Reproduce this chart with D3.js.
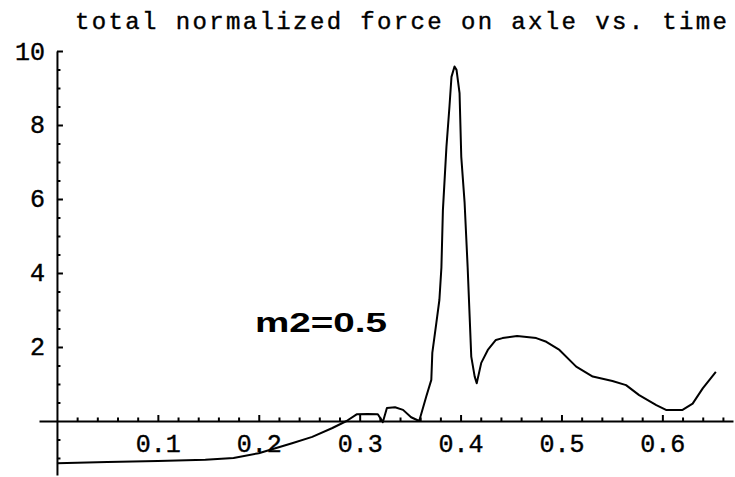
<!DOCTYPE html>
<html>
<head>
<meta charset="utf-8">
<script src="https://cdn.jsdelivr.net/npm/d3@7"></script>
<style>
  body { margin: 0; background: #fff; }
  text { fill: #000; }
</style>
</head>
<body>
<div class="chart"></div>
<script>
// Data
const timeValues = [0, 0.02, 0.05, 0.1, 0.147, 0.175, 0.2, 0.233, 0.253, 0.273, 0.287,
  0.297, 0.308, 0.318, 0.323, 0.327, 0.335, 0.343, 0.351, 0.359, 0.366, 0.371, 0.372,
  0.376, 0.379, 0.381, 0.3825, 0.386, 0.389, 0.391, 0.394, 0.396, 0.399, 0.4007, 0.404,
  0.407, 0.409, 0.4106, 0.414, 0.416, 0.4205, 0.427, 0.435, 0.4416, 0.456, 0.475, 0.485,
  0.498, 0.5146, 0.531, 0.5505, 0.564, 0.577, 0.594, 0.6036, 0.62, 0.63, 0.64, 0.653];
const forceValues = [-1.14, -1.13, -1.11, -1.08, -1.05, -1.0, -0.87, -0.6, -0.43, -0.19, 0,
  0.18, 0.19, 0.18, -0.03, 0.35, 0.37, 0.3, 0.1, 0.0, 0.66, 1.11, 1.84,
  2.65, 3.27, 4.14, 5.7, 7.41, 8.5, 9.3, 9.58, 9.49, 8.86, 7.14, 5.9,
  4.17, 2.82, 1.74, 1.2, 1.02, 1.57, 1.92, 2.19, 2.24, 2.3, 2.24, 2.14,
  1.92, 1.47, 1.2, 1.08, 0.97, 0.7, 0.43, 0.3, 0.3, 0.47, 0.88, 1.33];
const xTickLabels = [0.1, 0.2, 0.3, 0.4, 0.5, 0.6];
const yTickLabels = [2, 4, 6, 8, 10];
const titleText = "total normalized force on axle vs. time";
const labelText = "m2=0.5";

const width = 735, height = 477;
const points = timeValues.map((t, i) => ({ t: t, v: forceValues[i] }));

const svg = d3.select(".chart").append("svg")
    .attr("width", width)
    .attr("height", height);

// Scales
const x = d3.scaleLinear().domain([-0.0178, 0.67]).range([39, 733]);
const y = d3.scaleLinear().domain([-1.46, 10]).range([475, 51]);

const minorX = d3.range(0.02, 0.661, 0.02).filter(d => Math.abs(d * 10 - Math.round(d * 10)) > 1e-6);
const minorY = d3.range(-1, 10.01, 0.5).filter(d => d % 2 !== 0);

const monoFont = "'Liberation Mono', 'Courier New', monospace";

// x axis (ticks point up)
const xAxisG = svg.append("g").attr("transform", `translate(0, ${y(0)})`);
xAxisG.call(d3.axisBottom(x).tickValues(xTickLabels).tickSizeInner(-6).tickSizeOuter(0)
    .tickPadding(13).tickFormat(d3.format(".1f")));
xAxisG.append("g").call(d3.axisBottom(x).tickValues(minorX).tickSizeInner(-3.5).tickSizeOuter(0)
    .tickFormat(""))
    .select(".domain").remove();

// y axis (ticks point right)
const yAxisG = svg.append("g").attr("transform", `translate(${x(0)}, 0)`);
yAxisG.call(d3.axisLeft(y).tickValues(yTickLabels).tickSizeInner(-6).tickSizeOuter(0)
    .tickPadding(12));
yAxisG.append("g").call(d3.axisLeft(y).tickValues(minorY).tickSizeInner(-3.5).tickSizeOuter(0)
    .tickFormat(""))
    .select(".domain").remove();

svg.selectAll(".domain").attr("stroke", "#000").attr("stroke-width", 2);
svg.selectAll(".tick line").attr("stroke", "#000").attr("stroke-width", 2);
svg.selectAll(".tick text")
    .attr("font-family", monoFont)
    .attr("font-size", 25)
    .attr("stroke", "#000")
    .attr("stroke-width", 0.4)
    .attr("fill", "#000");

// curve
const line = d3.line()
    .x(d => x(d.t))
    .y(d => y(d.v));

svg.append("path")
    .datum(points)
    .attr("d", line)
    .attr("fill", "none")
    .attr("stroke", "#000")
    .attr("stroke-width", 2)
    .attr("stroke-linejoin", "round");

// title
svg.append("text")
    .attr("x", 75)
    .attr("y", 29)
    .attr("font-family", monoFont)
    .attr("font-size", 24)
    .attr("stroke", "#000")
    .attr("stroke-width", 0.4)
    .attr("textLength", 652)
    .attr("lengthAdjust", "spacing")
    .text(titleText);

// in-plot label
svg.append("text")
    .attr("x", 255)
    .attr("y", 332)
    .attr("font-family", "'Liberation Sans', Arial, sans-serif")
    .attr("font-weight", "bold")
    .attr("font-size", 28)
    .attr("textLength", 132)
    .attr("lengthAdjust", "spacingAndGlyphs")
    .text(labelText);
</script>
</body>
</html>
